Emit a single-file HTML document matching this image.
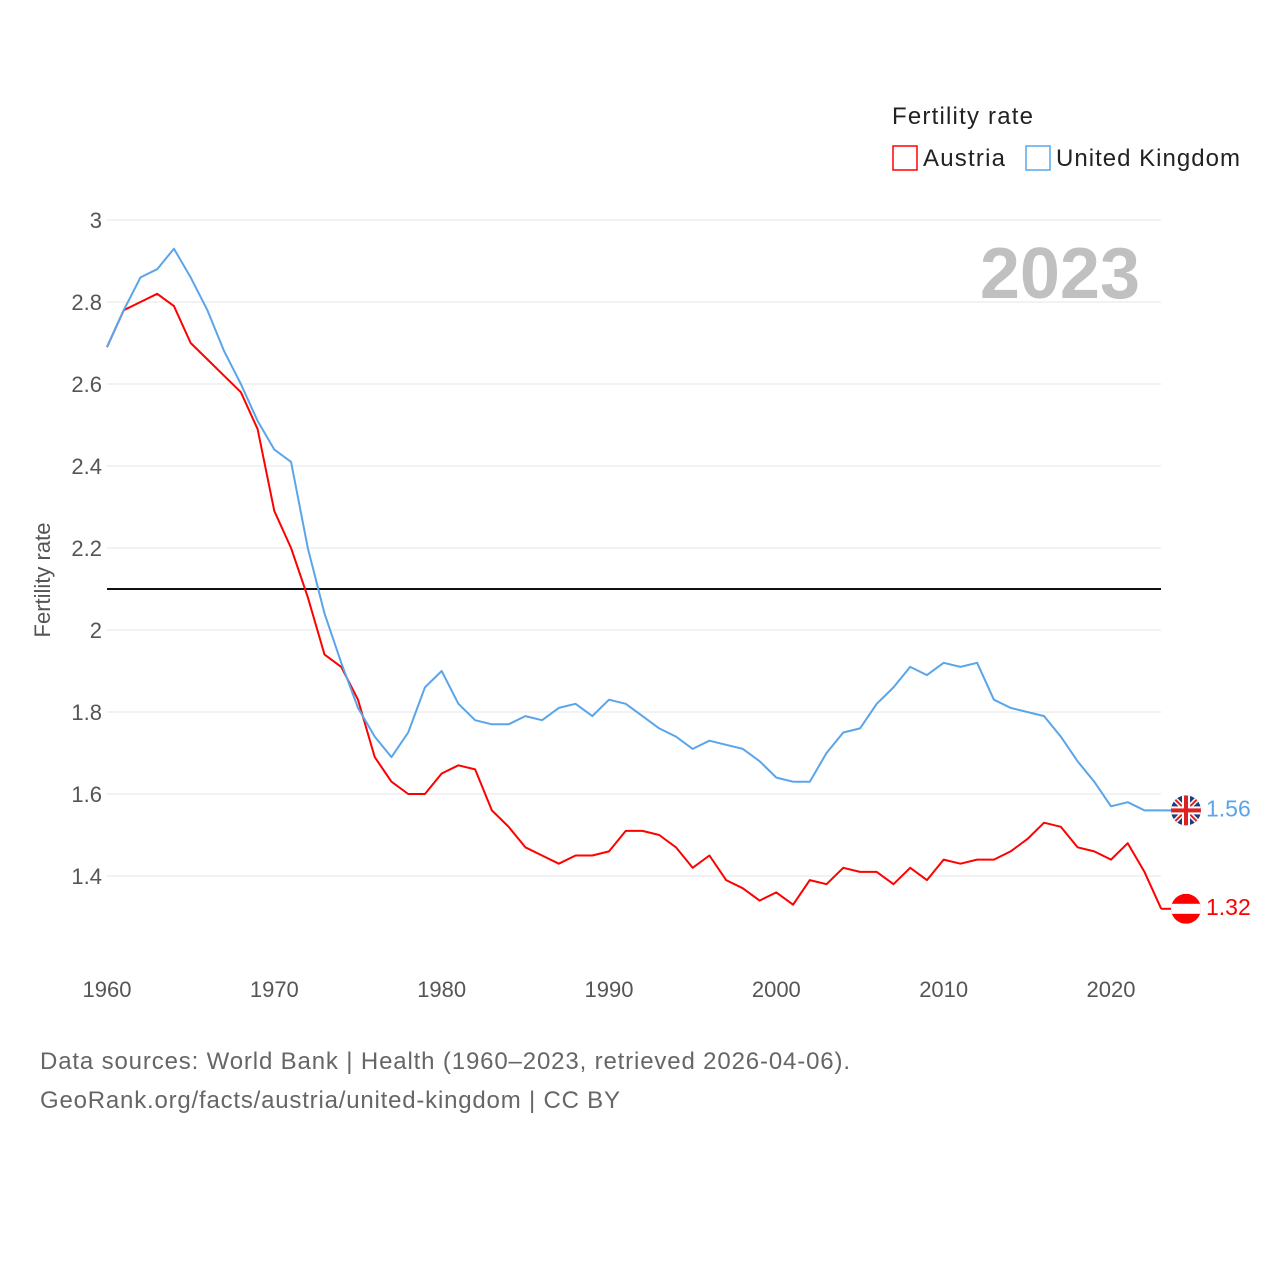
<!DOCTYPE html>
<html><head><meta charset="utf-8">
<style>
body{margin:0;background:#fff;}
svg{display:block;font-family:"Liberation Sans",sans-serif;}
</style></head>
<body>
<svg id="chart" width="1280" height="1280" viewBox="0 0 1280 1280">
<text x="892" y="124" font-size="24" fill="#222" textLength="141">Fertility rate</text>
<rect x="893" y="146" width="24" height="24" fill="none" stroke="#ff0000" stroke-width="1.5"/>
<text x="923" y="166" font-size="24" fill="#222" textLength="82">Austria</text>
<rect x="1026" y="146" width="24" height="24" fill="none" stroke="#5aa5ea" stroke-width="1.5"/>
<text x="1056" y="166" font-size="24" fill="#222" textLength="184">United Kingdom</text>
<text x="1140" y="298" font-size="72" font-weight="bold" fill="#c0c0c0" text-anchor="end">2023</text>
<text transform="translate(50,580) rotate(-90)" font-size="22" fill="#555" text-anchor="middle">Fertility rate</text>
<g id="grid"></g>
<g id="series"></g>
<text x="40" y="1069" font-size="24" fill="#666" textLength="810">Data sources: World Bank | Health (1960–2023, retrieved 2026-04-06).</text>
<text x="40" y="1108" font-size="24" fill="#666" textLength="580">GeoRank.org/facts/austria/united-kingdom | CC BY</text>
</svg>
<script>
const years=[];for(let y=1960;y<=2023;y++)years.push(y);
const austria=[2.69,2.78,2.80,2.82,2.79,2.70,2.66,2.62,2.58,2.49,2.29,2.20,2.08,1.94,1.91,1.83,1.69,1.63,1.60,1.60,1.65,1.67,1.66,1.56,1.52,1.47,1.45,1.43,1.45,1.45,1.46,1.51,1.51,1.50,1.47,1.42,1.45,1.39,1.37,1.34,1.36,1.33,1.39,1.38,1.42,1.41,1.41,1.38,1.42,1.39,1.44,1.43,1.44,1.44,1.46,1.49,1.53,1.52,1.47,1.46,1.44,1.48,1.41,1.32];
const uk=[2.69,2.78,2.86,2.88,2.93,2.86,2.78,2.68,2.60,2.51,2.44,2.41,2.20,2.04,1.92,1.81,1.74,1.69,1.75,1.86,1.90,1.82,1.78,1.77,1.77,1.79,1.78,1.81,1.82,1.79,1.83,1.82,1.79,1.76,1.74,1.71,1.73,1.72,1.71,1.68,1.64,1.63,1.63,1.70,1.75,1.76,1.82,1.86,1.91,1.89,1.92,1.91,1.92,1.83,1.81,1.80,1.79,1.74,1.68,1.63,1.57,1.58,1.56,1.56];
const yTicks=[1.4,1.6,1.8,2,2.2,2.4,2.6,2.8,3];
const xTicks=[1960,1970,1980,1990,2000,2010,2020];
const replacement=2.1;
const NS="http://www.w3.org/2000/svg";
const X=y=>107+(y-1960)*(1004/60);
const Y=v=>220+(3-v)*410;
function mk(tag,attrs,parent){const e=document.createElementNS(NS,tag);for(const k in attrs)e.setAttribute(k,attrs[k]);parent.appendChild(e);return e;}
const grid=document.getElementById('grid'),ser=document.getElementById('series');
yTicks.forEach(v=>{
 const l=mk('line',{x1:107,x2:1161,y1:Y(v),y2:Y(v),stroke:'#e6e6e6','stroke-width':1},grid);
 
 
 const t=mk('text',{x:102,y:Y(v)+8,'font-size':22,fill:'#555','text-anchor':'end'},grid);t.textContent=String(v);
 
 
});
xTicks.forEach(y=>{
 const t=mk('text',{x:X(y),y:997,'font-size':22,fill:'#555','text-anchor':'middle'},grid);t.textContent=String(y);
 
 
});
const rl=mk('line',{x1:107,x2:1161,y1:Y(replacement),y2:Y(replacement),stroke:'#111','stroke-width':2},grid);


function line(vals,color,name){
 const p=mk('polyline',{points:vals.map((v,i)=>X(years[i])+','+Y(v)).join(' '),fill:'none',stroke:color,'stroke-width':2,'stroke-linejoin':'round'},ser);
 
 
 const last=vals[vals.length-1],lx=X(years[years.length-1]);
 mk('line',{x1:lx,x2:1175,y1:Y(last),y2:Y(last),stroke:color,'stroke-width':2},ser);
 const t=mk('text',{x:1206,y:Y(last)+6,'font-size':23,fill:color},ser);t.textContent=last.toFixed(2);
 
 
 return Y(last);
}
const ya=line(austria,'#ff0000','austria-line');
const yu=line(uk,'#5aa5ea','uk-line');
const fa=mk('g',{},ser);


const ca=mk('clipPath',{id:'ca'},fa);mk('circle',{cx:1186,cy:ya,r:15},ca);
const ga=mk('g',{'clip-path':'url(#ca)'},fa);
mk('rect',{x:1171,y:ya-15,width:30,height:30,fill:'#ff0000'},ga);
mk('rect',{x:1171,y:ya-5,width:30,height:10,fill:'#fff'},ga);
const fu=mk('g',{},ser);


const cp=mk('clipPath',{id:'cu'},fu);mk('circle',{cx:1186,cy:yu,r:15},cp);
const gu=mk('g',{'clip-path':'url(#cu)'},fu);
mk('rect',{x:1171,y:yu-15,width:30,height:30,fill:'#1f3d7a'},gu);
mk('line',{x1:1171,y1:yu-15,x2:1201,y2:yu+15,stroke:'#fff','stroke-width':5},gu);
mk('line',{x1:1201,y1:yu-15,x2:1171,y2:yu+15,stroke:'#fff','stroke-width':5},gu);
mk('line',{x1:1171,y1:yu-15,x2:1201,y2:yu+15,stroke:'#d22','stroke-width':2},gu);
mk('line',{x1:1201,y1:yu-15,x2:1171,y2:yu+15,stroke:'#d22','stroke-width':2},gu);
mk('rect',{x:1171,y:yu-4,width:30,height:8,fill:'#fff'},gu);
mk('rect',{x:1182,y:yu-15,width:8,height:30,fill:'#fff'},gu);
mk('rect',{x:1171,y:yu-2,width:30,height:4,fill:'#d22'},gu);
mk('rect',{x:1184,y:yu-15,width:4,height:30,fill:'#d22'},gu);
</script>
</body></html>
